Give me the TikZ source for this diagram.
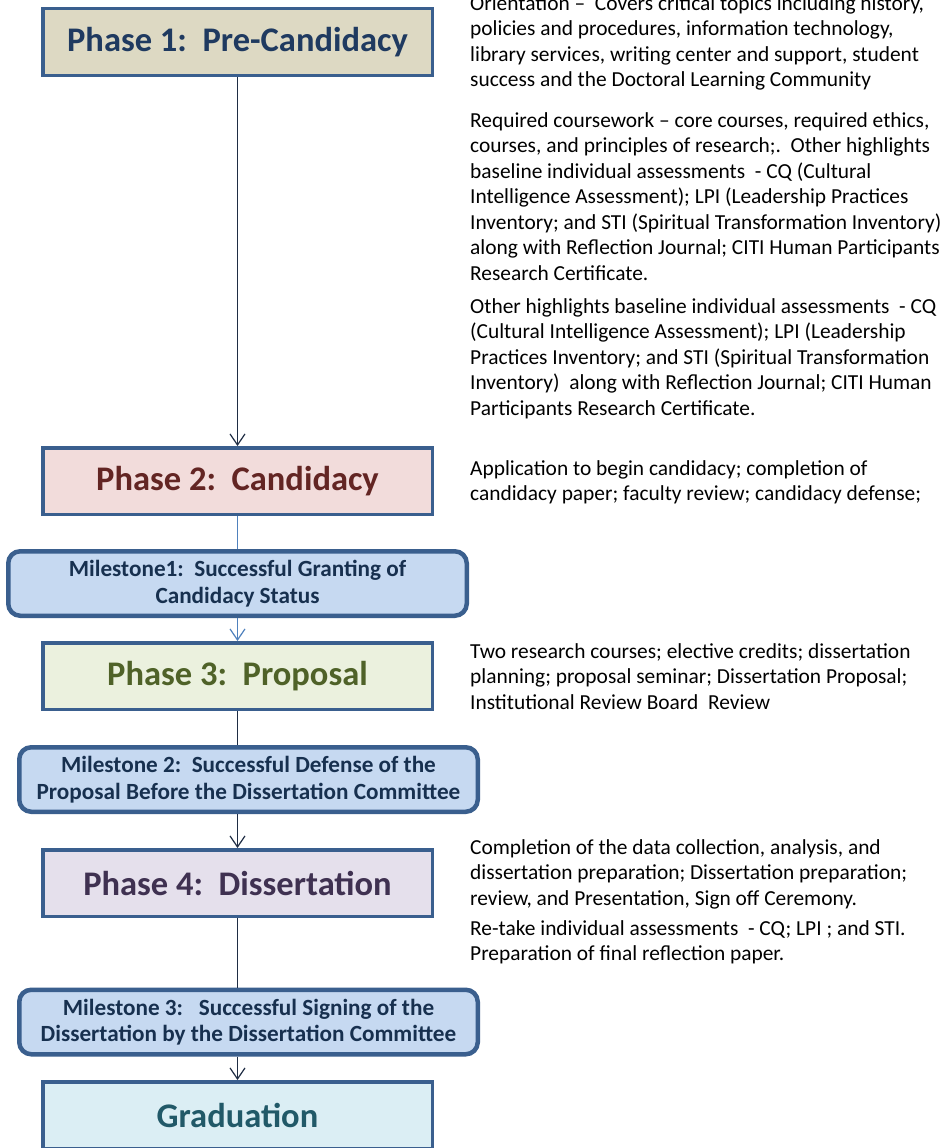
\documentclass[tikz,border=0pt]{standalone}
\usepackage{fontspec}
\setmainfont{Carlito}
\usetikzlibrary{arrows.meta}
\definecolor{bordc}{HTML}{3A5F8E}
\definecolor{pafill}{HTML}{DDD9C3}
\definecolor{pbfill}{HTML}{F2DCDB}
\definecolor{pcfill}{HTML}{EBF1DE}
\definecolor{pdfill}{HTML}{E5E0EC}
\definecolor{gfill}{HTML}{DBEEF4}
\definecolor{msfill}{HTML}{C6D9F1}
\definecolor{patext}{HTML}{1F3A60}
\definecolor{pbtext}{HTML}{632523}
\definecolor{pctext}{HTML}{4F6228}
\definecolor{pdtext}{HTML}{3F3151}
\definecolor{gtext}{HTML}{215968}
\definecolor{mstext}{HTML}{17304F}
\definecolor{darkline}{HTML}{1F2D44}
\definecolor{lightline}{HTML}{4F81BD}
\begin{document}
\begin{tikzpicture}[x=1pt,y=-1pt,
  phase/.style={draw=bordc, line width=3.5pt, minimum width=389.5pt, minimum height=66.5pt, inner sep=0pt,
    font=\fontsize{34.5}{40}\selectfont\bfseries},
  milestone/.style={draw=bordc, line width=4.5pt, rounded corners=12pt, fill=msfill, minimum width=458.5pt,
    minimum height=64.5pt, inner sep=0pt, align=center, text=mstext, font=\fontsize{23.2}{26.5}\selectfont\bfseries},
  rtxt/.style={anchor=north west, inner sep=0pt, align=left, text=black,
    font=\fontsize{21.4}{25.5}\selectfont},
  conn/.style={line width=1.2pt, draw=darkline},
  arr/.style={conn, -{Straight Barb[length=11pt,width=15pt,line width=1.2pt]}},
  lconn/.style={line width=1.2pt, draw=lightline},
  larr/.style={lconn, -{Straight Barb[length=11pt,width=15pt,line width=1.2pt]}}
]
\useasboundingbox (0,0) rectangle (946,1148);
\clip (0,0) rectangle (946,1148);
\fill[white] (0,0) rectangle (946,1148);

% left column
\node[phase, fill=pafill, text=patext] (p1) at (237.5,42) {Phase 1:\ \ Pre-Candidacy};
\node[phase, fill=pbfill, text=pbtext] (p2) at (237.5,481) {Phase 2:\ \ Candidacy};
\node[milestone] (m1) at (237.5,583.5) {Milestone1:\ \ Successful Granting of\\Candidacy Status};
\node[phase, fill=pcfill, text=pctext] (p3) at (237.5,676) {Phase 3:\ \ Proposal};
\node[milestone] (m2) at (248.5,779.5) {Milestone 2:\ \ Successful Defense of the\\Proposal Before the Dissertation Committee};
\node[phase, fill=pdfill, text=pdtext] (p4) at (237.5,883) {Phase 4:\ \ Dissertation};
\node[milestone] (m3) at (248.5,1022) {Milestone 3:\ \ \ Successful Signing of the\\Dissertation by the Dissertation Committee};
\node[phase, fill=gfill, text=gtext] (gr) at (237.5,1115) {Graduation};

% connectors
\draw[arr] (p1.south) -- (p2.north);
\draw[lconn] (p2.south) -- (p2.south |- m1.north);
\draw[larr] (p2.south |- m1.south) -- (p3.north);
\draw[conn] (p3.south) -- (p3.south |- m2.north);
\draw[arr] (p3.south |- m2.south) -- (p4.north);
\draw[conn] (p4.south) -- (p4.south |- m3.north);
\draw[arr] (p4.south |- m3.south) -- (gr.north);

% right column texts
\node[rtxt] (t1) at (470,-7.85) {\strut Orientation --\ \ Covers critical topics including history,\\
policies and procedures, information technology,\\
library services, writing center and support, student\\
success and the Doctoral Learning Community};
\node[rtxt] (t2) at (470,109.15) {\strut Required coursework -- core courses, required ethics,\\
courses, and principles of research;.\ \ Other highlights\\
baseline individual assessments\ \ - CQ (Cultural\\
Intelligence Assessment); LPI (Leadership Practices\\
Inventory; and STI (Spiritual Transformation Inventory)\\
along with Reflection Journal; CITI Human Participants\\
Research Certificate.};
\node[rtxt] (t3) at (470,295.15) {\strut Other highlights baseline individual assessments\ \ - CQ\\
(Cultural Intelligence Assessment); LPI (Leadership\\
Practices Inventory; and STI (Spiritual Transformation\\
Inventory)\ \ along with Reflection Journal; CITI Human\\
Participants Research Certificate.};
\node[rtxt] (t4) at (470,457.15) {\strut Application to begin candidacy; completion of\\
candidacy paper; faculty review; candidacy defense;};
\node[rtxt] (t5) at (470,640.15) {\strut Two research courses; elective credits; dissertation\\
planning; proposal seminar; Dissertation Proposal;\\
Institutional Review Board\ \ Review};
\node[rtxt] (t6) at (470,836.15) {\strut Completion of the data collection, analysis, and\\
dissertation preparation; Dissertation preparation;\\
review, and Presentation, Sign off Ceremony.};
\node[rtxt] (t7) at (470,917.15) {\strut Re-take individual assessments\ \ - CQ; LPI ; and STI.\\
Preparation of final reflection paper.};
\end{tikzpicture}
\end{document}
